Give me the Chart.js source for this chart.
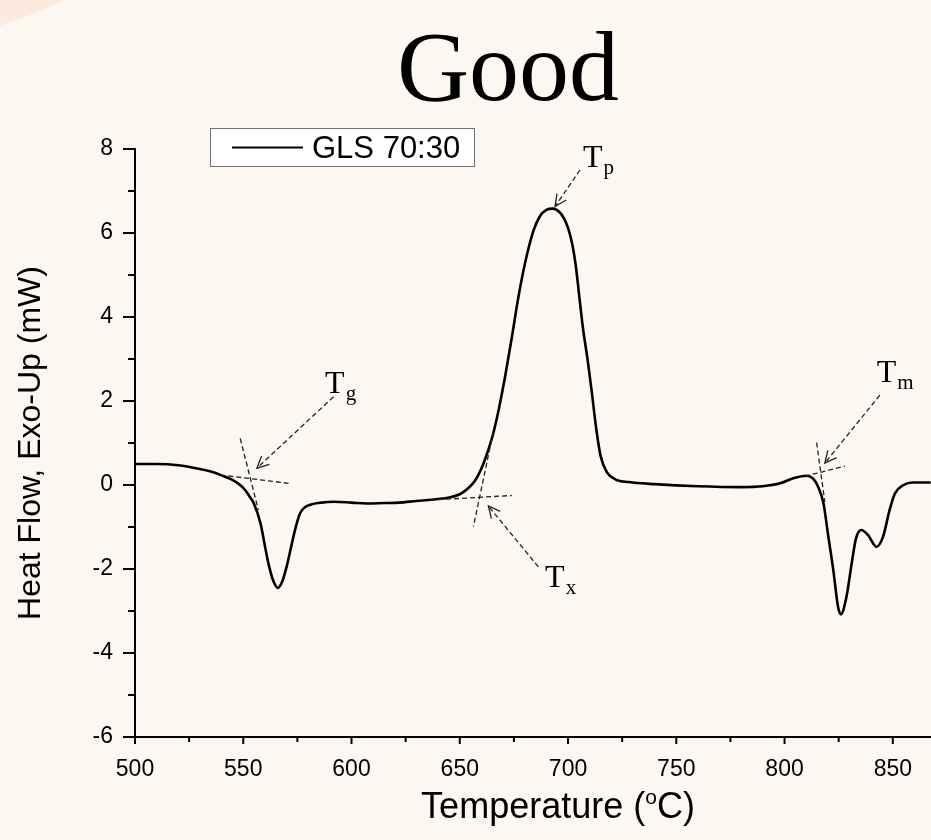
<!DOCTYPE html>
<html>
<head>
<meta charset="utf-8">
<title>Good</title>
<script src="https://cdn.jsdelivr.net/npm/chart.js"></script>
<style>
  html, body { margin: 0; padding: 0; background: #fcf7f1; overflow: hidden; }
  #wrap { position: relative; width: 931px; height: 840px; overflow: hidden; }
  #blob { position: absolute; left: -655px; top: -952px; width: 1002px; height: 1002px; border-radius: 50%; background: #fbeadd; }
  canvas { position: absolute; left: 0; top: 0; }
</style>
</head>
<body>
<div id="wrap">
  <div id="blob"></div>
  <canvas id="myChart" width="931" height="840"></canvas>
</div>
<script>
// DSC trace, GLS 70:30
const temps = [500,510,520,530,535,540,545,550,553,555,558,560,562,564,566,568,570,572,574,576,
  578,581,586,592,600,607,615,622,630,637,645,650,654,657,661,665,668,671,674,677,
  680,684,687,690,693,696,698,700,702,703.5,705.5,707,709,711,713,715,718,722,728,740,760,780,790,
  798,804,810,813,815.5,818,820,822.5,824.7,826,828.6,831,833,835.5,838.5,842.5,845.5,848.5,851,855,
  859,868];
const heatFlow = [0.50,0.50,0.47,0.38,0.32,0.23,0.12,-0.07,-0.28,-0.45,-0.92,-1.45,-1.95,-2.30,-2.45,-2.30,-1.95,-1.50,-1.05,-0.70,
  -0.55,-0.47,-0.42,-0.40,-0.42,-0.44,-0.43,-0.42,-0.38,-0.35,-0.30,-0.22,-0.07,0.10,0.52,1.14,1.80,2.60,3.50,4.45,
  5.25,6.05,6.40,6.55,6.58,6.50,6.36,6.12,5.72,5.25,4.35,3.69,3.00,2.20,1.35,0.70,0.30,0.13,0.07,0.02,-0.03,-0.05,-0.03,
  0.04,0.16,0.22,0.16,-0.04,-0.44,-1.15,-2.02,-2.90,-3.08,-2.66,-1.87,-1.27,-1.07,-1.19,-1.47,-1.23,-0.60,-0.20,0.00,
  0.06,0.06];

const seriesName = "GLS 70:30";
const xTicks = [500,550,600,650,700,750,800,850];
const xMinor = [525,575,625,675,725,775,825];
const yTicks = [-6,-4,-2,0,2,4,6,8];
const yMinor = [-5,-3,-1,1,3,5,7];

// onset construction lines, in data units: [x1,y1,x2,y2]
const marks = [
  {sub: "g", flat: [539.4,0.24,570.9,0.04], steep: [548.6,1.11,557.0,-0.60], arrow: [591.7,2.10,556.3,0.40], label: [587.8,2.19]},
  {sub: "x", flat: [636.3,-0.36,674.0,-0.25], steep: [665.5,1.27,656.3,-0.99], arrow: [686.3,-1.95,663.2,-0.50], label: [689.4,-2.43]},
  {sub: "p", arrow: [705.5,7.50,694.0,6.63], label: [706.9,7.57]},
  {sub: "m", flat: [809.4,0.21,827.9,0.45], steep: [814.8,1.01,818.6,-0.40], arrow: [844.0,2.14,818.6,0.52], label: [842.6,2.45]}
];

const points = temps.map((t, i) => ({x: t, y: heatFlow[i]}));

const decor = {
  id: "decor",
  afterDraw(chart) {
    const {ctx, chartArea: a, scales: {x, y}} = chart;
    const px = v => x.getPixelForValue(v);
    const py = v => y.getPixelForValue(v);
    ctx.save();

    // tick marks
    ctx.strokeStyle = "#000";
    ctx.lineWidth = 2;
    ctx.beginPath();
    xTicks.forEach(v => { ctx.moveTo(px(v), a.bottom); ctx.lineTo(px(v), a.bottom + 7); });
    xMinor.forEach(v => { ctx.moveTo(px(v), a.bottom); ctx.lineTo(px(v), a.bottom + 5); });
    yTicks.forEach(v => { ctx.moveTo(a.left, py(v)); ctx.lineTo(a.left - 12, py(v)); });
    yMinor.forEach(v => { ctx.moveTo(a.left, py(v)); ctx.lineTo(a.left - 7, py(v)); });
    ctx.stroke();

    // big title
    ctx.fillStyle = "#000";
    ctx.font = '100px "Liberation Serif", "Times New Roman", serif';
    ctx.textAlign = "center";
    ctx.textBaseline = "alphabetic";
    ctx.fillText("Good", 508, 100);

    // x axis title with superscript degree
    const big = '36px "Liberation Sans", Arial, sans-serif';
    const small = '21px "Liberation Sans", Arial, sans-serif';
    ctx.textAlign = "left";
    ctx.font = big;
    const w1 = ctx.measureText("Temperature (").width;
    const w3 = ctx.measureText("C)").width;
    ctx.font = small;
    const w2 = ctx.measureText("o").width;
    let tx = 558 - (w1 + w2 + w3) / 2;
    const ty = 818;
    ctx.font = big; ctx.fillText("Temperature (", tx, ty); tx += w1;
    ctx.font = small; ctx.fillText("o", tx, ty - 14); tx += w2;
    ctx.font = big; ctx.fillText("C)", tx, ty);

    // legend box
    const lx = a.left + 75, ly = a.top - 21;
    ctx.fillStyle = "#fff";
    ctx.fillRect(lx, ly, 265, 39);
    ctx.strokeStyle = "#707070";
    ctx.lineWidth = 1;
    ctx.strokeRect(lx + 0.5, ly + 0.5, 264, 38);
    ctx.strokeStyle = "#000";
    ctx.lineWidth = 2;
    ctx.beginPath();
    ctx.moveTo(lx + 22, ly + 19.5);
    ctx.lineTo(lx + 93, ly + 19.5);
    ctx.stroke();
    ctx.fillStyle = "#000";
    ctx.font = '31px "Liberation Sans", Arial, sans-serif';
    ctx.fillText(seriesName, lx + 102, ly + 30);

    // onset annotations
    ctx.strokeStyle = "#222";
    ctx.lineWidth = 1.3;
    const seg = s => {
      ctx.beginPath();
      ctx.moveTo(px(s[0]), py(s[1]));
      ctx.lineTo(px(s[2]), py(s[3]));
      ctx.stroke();
    };
    marks.forEach(m => {
      ctx.setLineDash([5, 3]);
      if (m.flat) seg(m.flat);
      if (m.steep) seg(m.steep);
      seg(m.arrow);
      // open arrow head
      ctx.setLineDash([]);
      const x0 = px(m.arrow[0]), y0 = py(m.arrow[1]);
      const x1 = px(m.arrow[2]), y1 = py(m.arrow[3]);
      const ang = Math.atan2(y0 - y1, x0 - x1);
      ctx.beginPath();
      ctx.moveTo(x1 + 13 * Math.cos(ang + 0.45), y1 + 13 * Math.sin(ang + 0.45));
      ctx.lineTo(x1, y1);
      ctx.lineTo(x1 + 13 * Math.cos(ang - 0.45), y1 + 13 * Math.sin(ang - 0.45));
      ctx.stroke();
      // T label
      const bx = px(m.label[0]), by = py(m.label[1]);
      ctx.fillStyle = "#000";
      ctx.font = '32px "Liberation Serif", "Times New Roman", serif';
      ctx.fillText("T", bx, by);
      const tw = ctx.measureText("T").width;
      ctx.font = '21px "Liberation Serif", "Times New Roman", serif';
      ctx.fillText(m.sub, bx + tw + 1, by + 7);
    });

    ctx.restore();
  }
};

new Chart("myChart", {
  type: "line",
  data: {
    datasets: [{
      label: seriesName,
      data: points,
      borderColor: "#000",
      borderWidth: 2.6,
      pointRadius: 0,
      fill: false,
      cubicInterpolationMode: "monotone"
    }]
  },
  options: {
    responsive: false,
    animation: false,
    layout: {padding: {top: 149, right: 0, left: 0, bottom: 0}},
    plugins: {
      legend: {display: false},
      title: {display: false},
      tooltip: {enabled: false}
    },
    scales: {
      x: {
        type: "linear",
        min: 500,
        max: 867.5,
        afterFit: s => { s.height = 103; },
        afterBuildTicks: s => { s.ticks = xTicks.map(v => ({value: v})); },
        grid: {display: false, drawTicks: false},
        border: {display: true, color: "#000", width: 2},
        ticks: {
          color: "#000",
          padding: 19,
          maxRotation: 0,
          autoSkip: false,
          font: {family: '"Liberation Sans", Arial, sans-serif', size: 23}
        }
      },
      y: {
        min: -6,
        max: 8,
        afterFit: s => { s.width = 135; },
        afterBuildTicks: s => { s.ticks = yTicks.map(v => ({value: v})); },
        grid: {display: false, drawTicks: false},
        border: {display: true, color: "#000", width: 2},
        ticks: {
          color: "#000",
          padding: 22,
          font: {family: '"Liberation Sans", Arial, sans-serif', size: 23}
        },
        title: {
          display: true,
          text: "Heat Flow, Exo-Up (mW)",
          color: "#000",
          font: {family: '"Liberation Sans", Arial, sans-serif', size: 32, lineHeight: 1.2},
          padding: {top: 12, bottom: 0}
        }
      }
    }
  },
  plugins: [decor]
});
</script>
</body>
</html>
